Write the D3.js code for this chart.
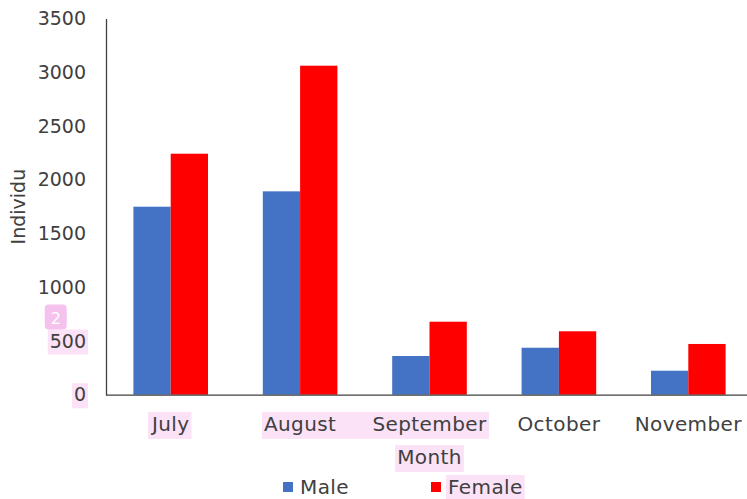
<!DOCTYPE html>
<html>
<head>
    <meta charset="UTF-8">
    <title>Individuals by Month</title>
    <script src="https://d3js.org/d3.v7.min.js"></script>
    <style>
        body { margin: 0; background: #fff; }
        text { font-family: "DejaVu Sans", sans-serif; fill: #404040; }
    </style>
</head>
<body>
    <svg class="chart"></svg>

    <script>
    const months = ["July", "August", "September", "October", "November"];
    const series = ["Male", "Female"];
    const male = [1749, 1892, 360, 437, 223];
    const female = [2242, 3061, 679, 590, 472];
    const yTicks = [0, 500, 1000, 1500, 2000, 2500, 3000, 3500];
    const colors = ["#4472C4", "#FF0000"];

    const width = 747;
    const height = 499;
    const plot = {left: 106, right: 753, top: 18.5, bottom: 394.7};

    const svg = d3.select(".chart")
        .attr("width", width)
        .attr("height", height);

    const x_scale = d3.scaleBand()
        .domain(months)
        .range([plot.left, plot.right])
        .paddingInner(0.4235)
        .paddingOuter(0.4235 / 2);

    const sub_scale = d3.scaleBand()
        .domain(series)
        .range([0, x_scale.bandwidth()]);

    const y_scale = d3.scaleLinear()
        .domain([0, 3500])
        .range([plot.bottom, plot.top]);

    const color_scale = d3.scaleOrdinal().domain(series).range(colors);

    const rows = months.map((m, i) => ({month: m, values: [
        {key: "Male", value: male[i]},
        {key: "Female", value: female[i]}
    ]}));

    // highlight layer goes underneath the text
    const hl = svg.append("g");

    // bars
    const groups = svg.selectAll(".grp")
        .data(rows).enter().append("g")
        .attr("transform", d => `translate(${x_scale(d.month)},0)`);

    groups.selectAll("rect")
        .data(d => d.values).enter().append("rect")
        .attr("x", d => sub_scale(d.key))
        .attr("y", d => y_scale(d.value))
        .attr("width", sub_scale.bandwidth())
        .attr("height", d => plot.bottom - y_scale(d.value))
        .attr("fill", d => color_scale(d.key));

    // y axis
    const yAxis = svg.append("g")
        .attr("transform", `translate(${plot.left},0)`)
        .call(d3.axisLeft(y_scale).tickValues(yTicks).tickSize(0).tickPadding(20).tickFormat(d3.format("d")));
    yAxis.select(".domain").attr("stroke", "#404040").attr("stroke-width", 1.3);
    yAxis.selectAll("text").style("font-size", "19px").attr("fill", "#404040");

    // x axis
    const xAxis = svg.append("g")
        .attr("transform", `translate(0,${plot.bottom})`)
        .call(d3.axisBottom(x_scale).tickSize(0).tickPadding(22));
    xAxis.select(".domain").attr("d", `M${plot.left},0.5H${width}`)
        .attr("stroke", "#404040").attr("stroke-width", 1.3);
    xAxis.selectAll("text").style("font-size", "20px").style("letter-spacing", "0.4px").attr("fill", "#404040");

    // axis titles
    svg.append("text")
        .attr("text-anchor", "middle")
        .attr("transform", `translate(25, ${(plot.top + plot.bottom) / 2})rotate(-90)`)
        .style("font-size", "19px")
        .text("Individu");

    const monthTitle = svg.append("text")
        .attr("text-anchor", "middle")
        .attr("x", (plot.left + plot.right) / 2)
        .attr("y", 464)
        .style("font-size", "20px")
        .style("letter-spacing", "0.4px")
        .text("Month");

    // legend
    const legendX = [283, 431];
    const legend = svg.selectAll(".legend")
        .data(series).enter().append("g")
        .attr("transform", (d, i) => `translate(${legendX[i]}, 487)`);
    legend.append("rect")
        .attr("x", 0).attr("y", -5)
        .attr("width", 10).attr("height", 10)
        .attr("fill", d => color_scale(d));
    legend.append("text")
        .attr("x", 17).attr("y", 7)
        .style("font-size", "20px")
        .style("letter-spacing", "0.4px")
        .text(d => d);

    // pink highlight boxes behind some labels
    function boxOf(nodes) {
        let x0 = Infinity, y0 = Infinity, x1 = -Infinity, y1 = -Infinity;
        nodes.forEach(n => {
            const b = n.getBBox();
            const m = n.getScreenCTM();
            const svgM = svg.node().getScreenCTM();
            const ox = m.e - svgM.e, oy = m.f - svgM.f;
            x0 = Math.min(x0, b.x + ox); y0 = Math.min(y0, b.y + oy);
            x1 = Math.max(x1, b.x + b.width + ox); y1 = Math.max(y1, b.y + b.height + oy);
        });
        return {x: x0, y: y0, w: x1 - x0, h: y1 - y0};
    }
    function highlight(nodes) {
        const b = boxOf(nodes);
        hl.append("rect")
            .attr("x", b.x - 2).attr("y", b.y)
            .attr("width", b.w + 4).attr("height", b.h + 3)
            .attr("fill", "#fbe2f7");
    }
    const xt = xAxis.selectAll(".tick text").nodes();
    const yt = yAxis.selectAll(".tick text").nodes();
    highlight([xt[0]]);
    highlight([xt[1], xt[2]]);
    highlight([yt[0]]);
    highlight([yt[1]]);
    highlight([monthTitle.node()]);
    highlight([legend.selectAll("text").nodes()[1]]);

    // small badge above the 500 label
    const b500 = boxOf([yt[1]]);
    const badge = svg.append("g")
        .attr("transform", `translate(${b500.x - 5}, ${b500.y - 25})`);
    badge.append("rect")
        .attr("width", 22).attr("height", 25).attr("rx", 4)
        .attr("fill", "#f5c2ee");
    badge.append("text")
        .attr("x", 11).attr("y", 19)
        .attr("text-anchor", "middle")
        .style("font-size", "16px")
        .style("fill", "#fff")
        .text("2");
    </script>
</body>
</html>
